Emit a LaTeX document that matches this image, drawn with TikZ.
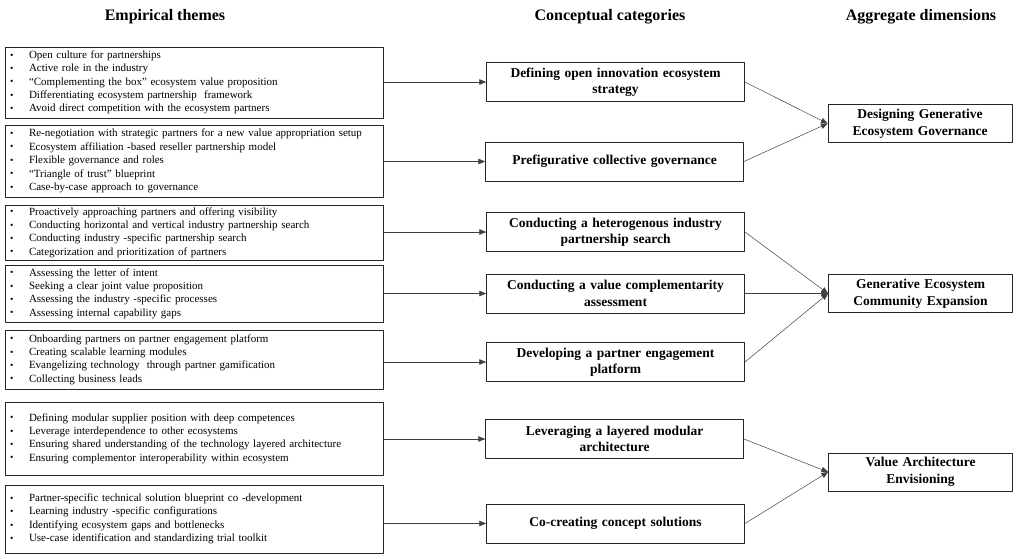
\documentclass[tikz,border=0pt]{standalone}
\usepackage{fontspec}
\setmainfont{Liberation Serif}
\usetikzlibrary{arrows}

\hyphenpenalty=10000
\exhyphenpenalty=10000
\newcommand{\bul}{\makebox[21pt][l]{\hspace{2pt}\raisebox{0.3pt}{\fontsize{9.5}{9.5}\selectfont\textbullet}}}

\begin{document}
\begin{tikzpicture}[x=1pt,y=-1pt,line cap=round,line join=round,>=triangle 45,
	theme/.style={draw=black!85,line width=0.9pt,inner xsep=3pt,inner ysep=0pt,text width=372pt,align=left,font=\fontsize{11}{13.4}\selectfont},
	cat/.style={draw=black!85,line width=0.9pt,inner sep=0pt,minimum width=258pt,minimum height=39pt,text width=254pt,align=center,font=\fontsize{13.5}{16.5}\selectfont\bfseries},
	dim/.style={draw=black!85,line width=0.9pt,inner sep=0pt,minimum width=184pt,minimum height=38pt,text width=180pt,align=center,font=\fontsize{13.5}{17}\selectfont\bfseries},
	head/.style={font=\fontsize{16}{18}\selectfont\bfseries},
	link/.style={->,line width=0.5pt,draw=black!75}]
		\useasboundingbox (0,0) rectangle (1016,558);
		% column heads
		\node[head] (h1) at (165,17) {Empirical themes};
		\node[head] (h2) at (610,17) {Conceptual categories};
		\node[head] (h3) at (921,17) {Aggregate dimensions};
		% empirical themes
		\node[theme,minimum height=71pt] (t1) at (194,82.5) {\bul Open culture for partnerships\\ \bul Active role in the industry\\ \bul “Complementing the box” ecosystem value proposition\\ \bul Differentiating ecosystem partnership\ \ framework\\ \bul Avoid direct competition with the ecosystem partners};
		\node[theme,minimum height=72pt] (t2) at (194,161) {\bul Re-negotiation with strategic partners for a new value appropriation setup\\ \bul Ecosystem affiliation -based reseller partnership model\\ \bul Flexible governance and roles\\ \bul “Triangle of trust" blueprint\\ \bul Case-by-case approach to governance};
		\node[theme,minimum height=55pt] (t3) at (194,232.5) {\bul Proactively approaching partners and offering visibility\\ \bul Conducting horizontal and vertical industry partnership search\\ \bul Conducting industry -specific partnership search\\ \bul Categorization and prioritization of partners};
		\node[theme,minimum height=57pt] (t4) at (194,293.5) {\bul Assessing the letter of intent\\ \bul Seeking a\ clear joint value proposition\\ \bul Assessing the industry -specific processes\\ \bul Assessing internal capability gaps};
		\node[theme,minimum height=59pt] (t5) at (194,359.5) {\bul Onboarding partners on partner engagement platform\\ \bul Creating scalable learning modules\\ \bul Evangelizing technology\ \ through partner gamification\\ \bul Collecting business leads};
		\node[theme,minimum height=73pt] (t6) at (194,438.5) {\bul Defining modular supplier position with deep competences\\ \bul Leverage interdependence to other ecosystems\\ \bul Ensuring shared understanding of the technology layered architecture\\ \bul Ensuring complementor interoperability within ecosystem};
		\node[theme,minimum height=68pt] (t7) at (194,519) {\bul Partner-specific technical solution blueprint co -development\\ \bul Learning industry -specific configurations\\ \bul Identifying ecosystem gaps and bottlenecks\\ \bul Use-case identification and standardizing trial toolkit};
		% conceptual categories
		\node[cat] (c1) at (615.5,82) {Defining open innovation ecosystem\\ strategy};
		\node[cat] (c2) at (614.5,161.5) {Prefigurative collective governance};
		\node[cat] (c3) at (615.5,232) {Conducting a heterogenous industry\\ partnership search};
		\node[cat] (c4) at (615.5,293.5) {Conducting a value complementarity\\ assessment};
		\node[cat] (c5) at (615.5,362) {Developing a partner engagement\\ platform};
		\node[cat] (c6) at (614.5,439) {Leveraging a layered modular\\ architecture};
		\node[cat] (c7) at (615.5,523.5) {Co-creating concept solutions};
		% aggregate dimensions
		\node[dim] (d1) at (920,123.5) {Designing Generative\\ Ecosystem Governance};
		\node[dim] (d2) at (920.5,293.5) {Generative Ecosystem\\ Community Expansion};
		\node[dim] (d3) at (920.5,472) {Value Architecture\\ Envisioning};
		% themes to categories
		\foreach \i in {1,...,7}
			\draw[link] (t\i.east |- c\i.west) -- (c\i.west);
		% categories to dimensions
		\draw[link] (c1.east) -- (d1.west);
		\draw[link] (c2.east) -- (d1.west);
		\draw[link] (c3.east) -- (d2.west);
		\draw[link] (c4.east) -- (d2.west);
		\draw[link] (c5.east) -- (d2.west);
		\draw[link] (c6.east) -- (d3.west);
		\draw[link] (c7.east) -- (d3.west);
	\end{tikzpicture}
\end{document}
